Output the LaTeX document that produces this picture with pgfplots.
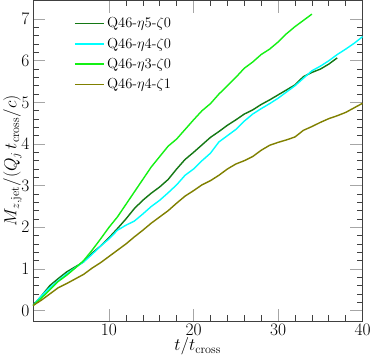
\documentclass[border=0pt]{standalone}
\usepackage{pgfplots}
\pgfplotsset{compat=1.18}
\definecolor{dkgreen}{RGB}{20,120,20}
\definecolor{brgreen}{RGB}{20,240,20}
\definecolor{cyanline}{RGB}{0,255,255}
\definecolor{oliveline}{RGB}{128,128,0}
\definecolor{axgray}{RGB}{64,64,64}
\begin{document}
\begin{tikzpicture}
\begin{axis}[
    scale only axis,
    width=326pt, height=317pt,
    xmin=1, xmax=40,
    ymin=-0.25, ymax=7.45,
    xtick={10,20,30,40},
    ytick={0,1,2,3,4,5,6,7},
    minor x tick num=4,
    minor y tick num=4,
    tick align=inside,
    ticks=both,
    major tick length=12pt,
    minor tick length=6pt,
    major tick style={gray!70, line width=0.8pt},
    minor tick style={axgray, line width=0.6pt},
    axis line style={axgray, line width=0.8pt},
    tick label style={font=\LARGE},
    xlabel={$t/t_{\mathrm{cross}}$},
    ylabel={$M_{z,\mathrm{jet}}/(Q_j\, t_{\mathrm{cross}}/c)$},
    label style={font=\LARGE},
    xlabel style={yshift=5pt},
    ylabel style={yshift=-7pt},
    legend style={at={(0.115,0.96)}, anchor=north west, draw=none, fill=none,
        font=\Large, row sep=4.5pt},
    legend cell align=left,
    legend image code/.code={\draw[#1, line width=1.6pt] (0pt,0pt) -- (29pt,0pt);},
    every axis plot/.append style={line width=1.4pt},
]
\addplot[dkgreen] coordinates {
(1,0.12)(2,0.35)(3,0.6)(4,0.77)(5,0.93)(6,1.05)(7,1.17)(8,1.38)(9,1.55)(10,1.75)
(11,1.97)(12,2.2)(13,2.45)(14,2.65)(15,2.82)(16,2.97)(17,3.15)(18,3.4)(19,3.63)(20,3.8)
(21,3.98)(22,4.16)(23,4.3)(24,4.45)(25,4.58)(26,4.72)(27,4.82)(28,4.95)(29,5.06)(30,5.18)
(31,5.3)(32,5.42)(33,5.62)(34,5.72)(35,5.8)(36,5.92)(37,6.07)
};
\addplot[cyanline] coordinates {
(1,0.12)(2,0.35)(3,0.55)(4,0.72)(5,0.88)(6,1.03)(7,1.17)(8,1.35)(9,1.55)(10,1.72)
(11,1.93)(12,2.05)(13,2.15)(14,2.32)(15,2.5)(16,2.65)(17,2.83)(18,3.02)(19,3.25)(20,3.4)
(21,3.6)(22,3.78)(23,4.05)(24,4.2)(25,4.35)(26,4.55)(27,4.72)(28,4.85)(29,4.97)(30,5.1)
(31,5.25)(32,5.4)(33,5.58)(34,5.76)(35,5.87)(36,6.0)(37,6.15)(38,6.28)(39,6.42)(40,6.58)
};
\addplot[brgreen] coordinates {
(1,0.12)(2,0.3)(3,0.5)(4,0.7)(5,0.85)(6,1.02)(7,1.2)(8,1.45)(9,1.72)(10,2.0)
(11,2.25)(12,2.55)(13,2.85)(14,3.15)(15,3.45)(16,3.7)(17,3.95)(18,4.12)(19,4.35)(20,4.58)
(21,4.8)(22,4.97)(23,5.2)(24,5.4)(25,5.6)(26,5.82)(27,5.97)(28,6.15)(29,6.28)(30,6.45)
(31,6.65)(32,6.82)(33,6.97)(34,7.12)
};
\addplot[oliveline] coordinates {
(1,0.12)(2,0.25)(3,0.4)(4,0.55)(5,0.65)(6,0.76)(7,0.87)(8,1.02)(9,1.15)(10,1.3)
(11,1.45)(12,1.6)(13,1.77)(14,1.93)(15,2.1)(16,2.25)(17,2.4)(18,2.58)(19,2.75)(20,2.88)
(21,3.02)(22,3.12)(23,3.25)(24,3.4)(25,3.52)(26,3.6)(27,3.7)(28,3.85)(29,3.97)(30,4.04)
(31,4.1)(32,4.17)(33,4.33)(34,4.42)(35,4.52)(36,4.61)(37,4.68)(38,4.76)(39,4.87)(40,4.98)
};
\legend{Q46-$\eta$5-$\zeta$0, Q46-$\eta$4-$\zeta$0, Q46-$\eta$3-$\zeta$0, Q46-$\eta$4-$\zeta$1}
\end{axis}
\end{tikzpicture}
\end{document}
